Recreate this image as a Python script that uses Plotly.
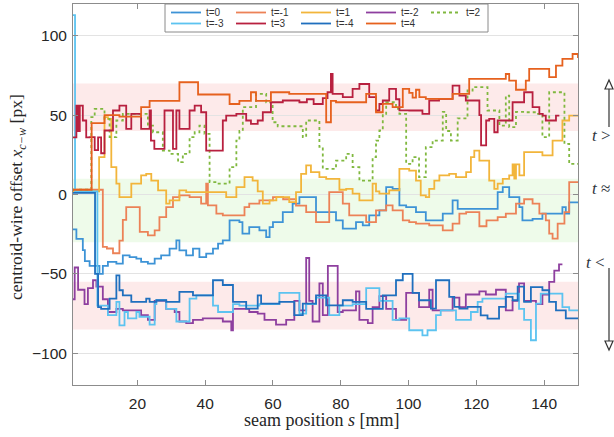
import plotly.graph_objects as go

# ---------------- data (seam position s [mm], offset [px]) ----------------
x_t0 = [1, 2, 3.9, 4.5, 5.9, 8.8, 9.8, 11.3, 13.8, 15.7, 17.7, 19.7, 21.1, 23.1, 25.1, 27, 29.5, 31.5, 32.4, 34.4,
        36.4, 38.3, 40.3, 42.3, 43.8, 45.2, 47.2, 50.1, 51, 53, 56, 58, 59, 60, 62.9, 65.8, 67.8, 72.7, 78.6, 80.6,
        84.5, 86.5, 88.4, 91.4, 93.4, 95.3, 97.3, 99.3, 100.2, 102.2, 105.1, 110.1, 113, 114.5, 126.3, 127.8, 129.7,
        132.7, 133.6, 136.6, 139.5, 145.4, 146.4, 147.4, 150]
y_t0 = [-22, -28, -35, -42, -45, -50, -45, -42.5, -43.6, -38.3, -39.4, -40.4, -42.5, -43.6, -40.4, -38.3, -34.1, -28.9,
        -35.2, -38.3, -34.1, -39.4, -37.3, -34.1, -31, -28.9, -16.3, -17.4, -24.7, -20.5, -22.6, -26.8, -20.5, -17.4,
        -11.1, -5.8, -1.6, -11.1, -16.3, -21.5, -17.4, -19.5, -13.2, -10, 4.7, 3.6, -6.9, -7.9, -8, -11.1, -16.3,
        -12.1, -3.7, -9, 1.5, 4.7, -1.6, -7.9, -16.3, -15.3, -12.1, -8, -12, -5, -5]

x_tm1 = [1, 9.8, 11, 12.8, 14.7, 15.7, 16.7, 20.7, 23.1, 25.1, 26.5, 28.5, 30.5, 32.4, 35.4, 38.8, 40.3, 40.8, 43.3,
         45.2, 50.1, 51.6, 53, 56, 60, 63, 66.8, 69.8, 72.7, 76.6, 80.6, 82.5, 87.5, 90.4, 93.4, 95.3, 98.3, 100.2,
         102.2, 106.1, 110.1, 113, 115, 117, 120.9, 123, 126.3, 128.7, 131.7, 134.1, 136.6, 138.6, 140.5, 141.5,
         142.5, 144, 146, 147.4, 150]
y_tm1 = [3, -33, -34, -37, -29, -16, -8, -23.6, -25.7, -22.6, -14.2, -8, -1.6, -0.6, -1.6, -5.8, 6.8, -6.9, -12.1,
         -13.2, -13.2, -8, -5.8, -3.7, -1.6, -3, -7, -11.1, -17.4, 1.5, -5.8, -13.2, -17.4, -10, -6.9, -10, -16.3,
         -17.4, -18.4, -19.5, -22.6, -18.4, -12.1, -11.1, -20, -16.3, -14.2, -12.1, -5.8, -3, -5.8, -12, -16.3,
         -24.7, -27.8, -18.4, -11.1, 7.8, 8]

x_t1 = [1, 8.7, 10.3, 11.3, 12.3, 13.8, 14.7, 18.2, 21.1, 22.6, 24.1, 26.1, 28.5, 29.5, 32.4, 34.4, 46.2, 49.2, 51.6,
        54, 55.5, 57, 59, 61, 64.8, 66.8, 68.3, 69.8, 71.2, 73.7, 75.7, 79.6, 81.6, 83.5, 85.5, 89.4, 90.4, 91.4,
        94.3, 97.3, 100.2, 102.2, 103.6, 105.1, 106.1, 107.6, 109.1, 112, 114, 117, 118.4, 119.4, 120.9, 123.8,
        125.3, 126.3, 127.8, 129.7, 130.7, 131.2, 131.7, 132.7, 134.1, 139.5, 142.5, 145.4, 147.4, 150]
y_t1 = [2, 23.5, 48.7, 47.6, 17.2, 6.8, -1.6, 6.8, 12, 13, 8.8, 2.6, -5.8, -3.7, 2.6, 1.5, -1.6, 4.7, 10.9, 8.8, 2,
        -5.8, -3.7, -1.6, -4.8, 1.5, 13, 18.3, 14.1, 10.9, 9.9, 3, 3.6, 0.5, -3.7, 6.8, 2, 0.5, 2.6, 16.2, 15.1, 8.8,
        -0.6, -1.6, 3.6, 8.8, 12, 13, 10.9, 14.1, 23.5, 27.7, 21.4, 8.8, 3.6, 6.8, 9.9, 12, 19, 10, 19, 12, 26.7,
        24.6, 34, 46.6, 49.7, 50]

x_tm2 = [1, 1.5, 2.5, 4.4, 5.4, 6.9, 7.9, 9.8, 11.3, 13.8, 15.7, 21.1, 23.1, 25.1, 28.5, 31, 32.4, 34.4, 36.4, 39.3,
         45.2, 47.7, 48.2, 50.1, 53, 55.5, 57.5, 60.9, 63.9, 66.3, 67.8, 69.8, 70.7, 71.7, 73.7, 74.7, 76.2, 79.1,
         80.6, 84.5, 85.5, 88, 89.4, 91.4, 93.4, 96.3, 99.3, 100.2, 103.1, 106.1, 107.1, 113, 115, 116.9, 120.9,
         122.8, 125.8, 128.7, 130.7, 132.6, 134.1, 137.6, 139.5, 141.5, 143, 144.4, 145.4]
y_tm2 = [-66, -46, -60, -69, -59, -54, -58, -66, -74, -72, -73, -76, -79, -67, -72, -74, -80, -81, -79, -78, -80,
         -85.5, -72, -72, -74, -75, -79, -82, -79, -67, -73, -40, -67, -80, -56, -76, -45, -74, -73, -61, -79, -81,
         -71, -64, -72, -79, -62, -62, -71, -60, -73, -65, -71, -63, -61, -63, -60, -73, -67, -56, -67, -69, -63,
         -55, -48, -44, -44]

x_t2 = [1, 6.4, 7.4, 10.3, 11.8, 13.8, 15.7, 23.1, 24.6, 27.5, 29.5, 32, 33.4, 35.4, 36.9, 38.3, 39.8, 41.3, 43.3,
        47.2, 49.2, 50.1, 51.1, 55, 58, 59.9, 61.4, 68.8, 69.8, 73.7, 74.7, 78.6, 81.6, 83.5, 85.5, 89.4, 90.4, 91.4,
        92.4, 93.4, 96.3, 97.3, 99.3, 101.2, 103.1, 105.1, 107.1, 110.1, 111.1, 112.5, 114.5, 117.4, 118.9, 123.3,
        126.8, 128.7, 129.7, 131.7, 134.1, 137.6, 139.5, 141.5, 146, 147.4, 150]
y_t2 = [3, 48.7, 53.9, 47.6, 36.1, 46.6, 50.8, 43.4, 39.2, 27.7, 25.6, 20.4, 25.6, 36.1, 39.2, 43.4, 38.2, 7.8, 6.8,
        17.2, 34, 40, 55, 63.4, 58, 45.5, 43, 36.1, 46.6, 30, 16.2, 21.4, 25.6, 17.2, 8.8, 23.5, 34, 40.3, 50.8,
        58.1, 53.9, 50.8, 19.3, 23.5, 10.9, 29.8, 34, 52, 40, 34, 48, 65.5, 67.6, 52.9, 43.4, 62.3, 42.4, 52, 51.8,
        50.8, 36.1, 64.4, 31.9, 19.3, 19]

x_tm3 = [1, 1.6, 8.2, 9.3, 11.3, 13.8, 14.7, 16.2, 17.2, 19.7, 20.6, 23.6, 25.1, 25.6, 28.5, 31.5, 35.4, 37.4, 42.3,
         43.8, 45.2, 48.2, 50.1, 56, 61.9, 67.8, 69.8, 72.7, 76.6, 79.6, 83.5, 87.5, 91.4, 95.3, 97.3, 100.2, 104.1,
         105.6, 108.1, 109.5, 114, 118.4, 120.4, 121.8, 128.7, 132.6, 134.1, 136.1, 137.6, 139, 145.4, 147.4, 150]
y_tm3 = [113, 2, -70, -70, -76, -67.7, -82.4, -74, -78, -74, -77, -82, -69, -66.6, -72, -80, -65.6, -63.5, -70, -74,
         -74, -69, -70, -69, -62, -75, -69, -65, -76, -70, -69, -59, -67, -79, -78, -85.5, -88.7, -85.5, -76, -73,
         -79, -74, -67.7, -65.6, -62.4, -72, -79, -91.8, -68.7, -62.4, -71, -73, -73]

x_t3 = [1, 2, 2.5, 3, 3.9, 4.9, 5.9, 7.4, 8.4, 9.3, 10.3, 12.8, 14.7, 16.7, 18.2, 21.1, 23.6, 24, 25, 28, 30.5, 31.5,
        32.4, 35.4, 36.9, 38.8, 40.3, 45.2, 46.2, 49.2, 52.1, 53.5, 55.5, 57, 59.4, 62.9, 67.8, 70, 72, 74.7, 76.1,
        77.1, 77.6, 80.6, 83.5, 85.5, 88.4, 90.4, 91.4, 92.4, 94.3, 96.3, 97.3, 100.2, 104.1, 106.1, 109, 113, 115,
        116.9, 120.9, 121.4, 122.9, 123.8, 125.3, 126.3, 130.7, 134.1, 136.6, 138.6, 139.6, 140.5, 143.5, 144.5]
y_t3 = [36, 56, 40, 56, 46.6, 36, 36.1, 28, 36, 26, 40.3, 52.9, 56, 41.3, 50.8, 41.3, 52.9, 34, 28.8, 52.9, 28.8,
        52.9, 41.3, 52.9, 56, 51.8, 27.7, 46.6, 49.7, 50.8, 46.6, 44.5, 46.6, 51.8, 58.1, 59.2, 58.1, 60, 57, 60.7,
        64.4, 76, 63.4, 61.3, 66.5, 69.6, 61.3, 52.9, 57, 59.2, 66.5, 60, 53, 52.9, 50.8, 59.2, 60.2, 68.6, 62.3,
        59.2, 50, 30.9, 46.6, 47.6, 39.2, 46.6, 58.1, 64.4, 55, 50.8, 49.7, 46.6, 49.7, 49.7]

x_tm4 = [1, 7.5, 8.4, 9.3, 11.8, 13.8, 14.7, 15.7, 18.2, 22.6, 23.6, 25.6, 28.5, 32.4, 36.4, 42.3, 45.2, 48.2, 50.1,
         52.1, 55.5, 56.5, 61.9, 66.3, 68.8, 72.7, 75.7, 80.6, 83.5, 87.5, 92.4, 96.3, 98.3, 100.2, 101.2, 103.1,
         106.6, 108.1, 112, 113.5, 115, 117.4, 121.3, 123.3, 126.7, 128.7, 130.7, 132.2, 134.1, 136.1, 139.5, 141.5,
         143.5, 146.4, 150]
y_tm4 = [1, -50, -71, -72, -65.6, -51, -60.3, -63.5, -67.7, -65.6, -67.7, -66.6, -67.7, -61.4, -63.5, -54, -57, -67.7,
         -67.7, -71.9, -63.5, -68.7, -67.7, -76, -68.7, -63.5, -69.8, -66.6, -67.7, -72, -63.5, -54, -50, -50, -62,
         -66.6, -71.9, -54, -64.5, -70.8, -71.9, -70.8, -76.1, -78.2, -70.8, -64.5, -66.6, -58, -67.7, -58.3, -60.3,
         -67.7, -73, -78, -78]

x_t4 = [1, 6.5, 10.3, 14.7, 21.1, 23.6, 32.4, 37.9, 47.2, 50.1, 53.5, 55, 59.4, 64.8, 75.7, 77.1, 78.6, 87.5, 90.4,
        92.4, 95.3, 98.3, 100.2, 101.2, 102.2, 103.2, 105.1, 113, 117.9, 128.7, 129.7, 131.7, 134.6, 135.6, 141.5,
        143.5, 145.4, 148.4, 150]
y_t4 = [3, 45, 50, 49, 55, 59, 70.7, 63, 57, 59, 64.4, 59, 64.4, 63.4, 45.5, 59, 58.1, 63.4, 51.8, 57.1, 55, 66.5,
        64, 61, 66, 61.3, 60.2, 63.4, 72.8, 75.9, 71.7, 66, 71.7, 79.1, 74, 81.2, 85.4, 88.5, 86]

series = [
    ("t=0", x_t0, y_t0, "#3d93d6", "solid", "legend"),
    ("t=-1", x_tm1, y_tm1, "#ec8257", "solid", "legend"),
    ("t=1", x_t1, y_t1, "#f2b53b", "solid", "legend"),
    ("t=-2", x_tm2, y_tm2, "#8e3f9f", "solid", "legend"),
    ("t=2", x_t2, y_t2, "#80b83f", "dot", "legend"),
    ("t=-3", x_tm3, y_tm3, "#5cc3f0", "solid", "legend2"),
    ("t=3", x_t3, y_t3, "#b8203f", "solid", "legend2"),
    ("t=-4", x_tm4, y_tm4, "#1f6fbe", "solid", "legend2"),
    ("t=4", x_t4, y_t4, "#e6611e", "solid", "legend2"),
]

bands = [(40, 70, "#fdeaea"), (-30, 10, "#eefbea"), (-85, -55, "#fdeaea")]
x_ticks = [20, 40, 60, 80, 100, 120, 140]
y_ticks = [-100, -50, 0, 50, 100]

# ---------------- figure ----------------
W, H = 614, 437
ML, MR, MT, MB = 73, 36, 4, 52
PW, PH = W - ML - MR, H - MT - MB


def px(xp):
    return (xp - ML) / PW


def py(yp):
    return (H - MB - yp) / PH


fig = go.Figure()
for name, xs, ys, col, dash, lg in series:
    fig.add_trace(go.Scatter(x=xs, y=ys, name=name, mode="lines", line_shape="hv",
                             line=dict(color=col, width=1.8, dash=dash), legend=lg))

shapes = []
for y0, y1, c in bands:
    shapes.append(dict(type="rect", xref="paper", yref="y", x0=0, x1=1, y0=y0, y1=y1,
                       fillcolor=c, line_width=0, layer="below"))

# legend box
shapes.append(dict(type="rect", xref="paper", yref="paper", x0=px(165), x1=px(488), y0=py(32), y1=py(4),
                   fillcolor="white", line=dict(color="#8a8a8a", width=1), layer="above"))

# right-side arrows
ax = 609
shapes.append(dict(type="line", xref="paper", yref="paper", x0=px(ax), x1=px(ax), y0=py(127), y1=py(89),
                   line=dict(color="#333", width=1.2)))
shapes.append(dict(type="path", xref="paper", yref="paper",
                   path=f"M {px(ax-4)},{py(89)} L {px(ax+4)},{py(89)} L {px(ax)},{py(80)} Z",
                   fillcolor="white", line=dict(color="#333", width=1.2)))
shapes.append(dict(type="line", xref="paper", yref="paper", x0=px(ax), x1=px(ax), y0=py(268), y1=py(341),
                   line=dict(color="#333", width=1.2)))
shapes.append(dict(type="path", xref="paper", yref="paper",
                   path=f"M {px(ax-4)},{py(341)} L {px(ax+4)},{py(341)} L {px(ax)},{py(350)} Z",
                   fillcolor="white", line=dict(color="#333", width=1.2)))

serif = "Liberation Serif, Times New Roman, serif"
sans = "Liberation Sans, Arial, sans-serif"
ann = []
for txt, xp, yp in [("<i>t</i> &gt;", 601, 135), ("<i>t</i> ≈", 601, 188), ("<i>t</i> &lt;", 595, 262)]:
    ann.append(dict(text=txt, xref="paper", yref="paper", x=px(xp), y=py(yp), showarrow=False,
                    xanchor="center", yanchor="middle", font=dict(family=serif, size=17, color="#2e3440")))
# axis titles
ann.append(dict(text="seam position <i>s</i> [mm]", xref="paper", yref="paper", x=px(322), y=py(420),
                showarrow=False, xanchor="center", yanchor="middle",
                font=dict(family=serif, size=18, color="#262626")))
ann.append(dict(text="centroid-wire offset <i>x</i><sub><i>c−w</i></sub> [px]", xref="paper", yref="paper",
                x=px(17), y=py(197), showarrow=False, xanchor="center", yanchor="middle", textangle=-90,
                font=dict(family=serif, size=17.5, color="#262626")))

axis_common = dict(showline=True, linecolor="#8c8c8c", linewidth=1, mirror="ticks", ticks="inside",
                   ticklen=5, tickcolor="#8c8c8c", zeroline=False, automargin=False,
                   tickfont=dict(family=sans, size=15.5, color="#262626"))

fig.update_layout(
    width=W, height=H, margin=dict(l=ML, r=MR, t=MT, b=MB, autoexpand=False),
    paper_bgcolor="white", plot_bgcolor="white",
    shapes=shapes, annotations=ann,
    xaxis=dict(range=[1, 150], tickvals=x_ticks, showgrid=False, ticklabelstandoff=4, **axis_common),
    yaxis=dict(range=[-120, 120], tickvals=y_ticks, showgrid=True, gridcolor="#e3e3e3", gridwidth=1,
               ticklabelstandoff=2, **axis_common),
    legend=dict(orientation="h", x=px(166), y=py(-2), xanchor="left", yanchor="top",
                bgcolor="rgba(0,0,0,0)", borderwidth=0, itemwidth=30, entrywidth=20,
                font=dict(family=sans, size=10, color="#333"),
                tracegroupgap=0, itemclick=False),
    legend2=dict(orientation="h", x=px(166), y=py(9), xanchor="left", yanchor="top",
                 bgcolor="rgba(0,0,0,0)", borderwidth=0, itemwidth=30, entrywidth=20,
                 font=dict(family=sans, size=10, color="#333"),
                 tracegroupgap=0, itemclick=False),
    showlegend=True,
)

fig.write_html("out.html", config={"displayModeBar": False},
               post_script="document.body.style.margin='0px';document.body.style.overflow='hidden';")
